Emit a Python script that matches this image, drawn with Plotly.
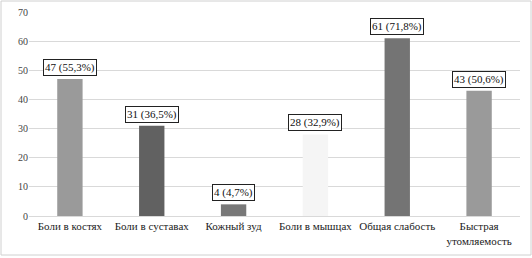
import plotly.graph_objects as go

categories = ["Боли в костях", "Боли в суставах", "Кожный зуд", "Боли в мышцах", "Общая слабость", "Быстрая<br>утомляемость"]
counts = [47, 31, 4, 28, 61, 43]
percents = ["55,3%", "36,5%", "4,7%", "32,9%", "71,8%", "50,6%"]
bar_colors = ["#9a9a9a", "#616161", "#787878", "#f5f5f5", "#747474", "#9a9a9a"]
y_ticks = [0, 10, 20, 30, 40, 50, 60, 70]

W, H = 532, 258
L, R, T, B = 29, 12, 12, 42
font_family = "Times New Roman"

fig = go.Figure()
fig.add_trace(go.Bar(
    x=categories, y=counts, marker=dict(color=bar_colors, line=dict(width=0)),
    width=0.31, hoverinfo="skip"
))

for c, v, p in zip(categories, counts, percents):
    fig.add_annotation(
        x=c, y=v, text=f"{v} ({p})", showarrow=False, yanchor="bottom", yshift=3,
        font=dict(family=font_family, size=11, color="#111"),
        bordercolor="#222", borderwidth=1, borderpad=1, bgcolor="white"
    )

pw = W - L - R
ph = H - T - B
fig.add_shape(type="rect", xref="paper", yref="paper",
              x0=(1 - L) / pw, x1=(W - 1 - L) / pw,
              y0=-(H - 3 - (H - B)) / ph, y1=(H - B - 1) / ph,
              line=dict(color="#d0d0d0", width=1), layer="below")

fig.update_layout(
    width=W, height=H, margin=dict(l=L, r=R, t=T, b=B, autoexpand=False),
    paper_bgcolor="white", plot_bgcolor="white",
    showlegend=False, bargap=0.69,
    font=dict(family=font_family, size=11, color="#222"),
    xaxis=dict(showgrid=False, showline=True, linecolor="#d9d9d9", ticks="",
               tickfont=dict(size=11, family=font_family), tickangle=0, automargin=False),
    yaxis=dict(range=[0, 70], tickvals=y_ticks, showgrid=True, gridcolor="#d9d9d9",
               zeroline=False, ticks="", tickfont=dict(size=10, family=font_family, color="#444"),
               showline=False, automargin=False),
)
fig.write_html("out.html", config={"displayModeBar": False},
               post_script="document.body.style.margin='0';")
